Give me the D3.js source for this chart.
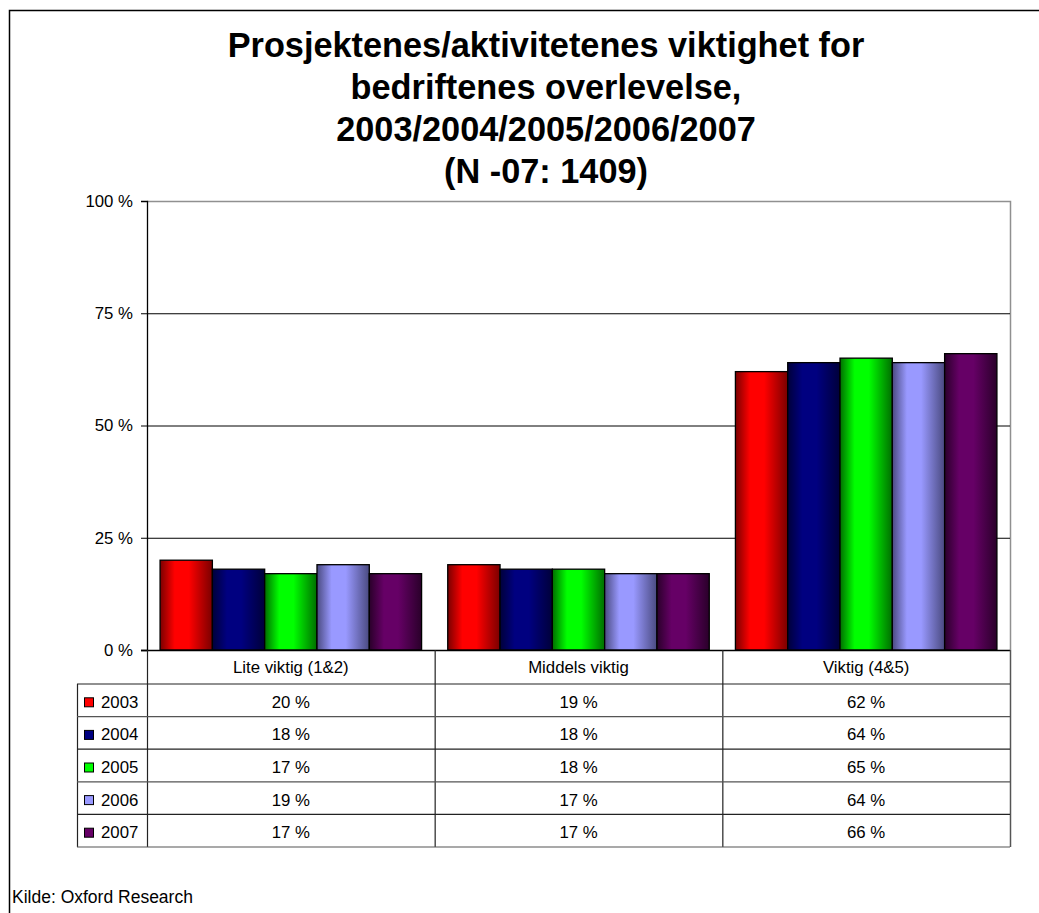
<!DOCTYPE html>
<html>
<head>
<meta charset="utf-8">
<script src="https://cdn.jsdelivr.net/npm/d3@7"></script>
<style>
  html, body { margin: 0; padding: 0; background: #fff; }
  svg { display: block; font-family: "Liberation Sans", Arial, sans-serif; }
</style>
</head>
<body>
<svg id="chart" width="1039" height="913"></svg>
<script>
// Chart data
const categories = ["Lite viktig (1&2)", "Middels viktig", "Viktig (4&5)"];
const years = ["2003", "2004", "2005", "2006", "2007"];
const values2003 = [20, 19, 62];
const values2004 = [18, 18, 64];
const values2005 = [17, 18, 65];
const values2006 = [19, 17, 64];
const values2007 = [17, 17, 66];
const seriesValues = [values2003, values2004, values2005, values2006, values2007];
const yTicks = [0, 25, 50, 75, 100];
const titleLines = [
  "Prosjektenes/aktivitetenes viktighet for",
  "bedriftenes overlevelse,",
  "2003/2004/2005/2006/2007",
  "(N -07: 1409)"
];
const sourceText = "Kilde: Oxford Research";

// Bright centre / dark edge colour for each year's bars
const seriesColors = [
  { mid: "#ff0000", edge: "#7a0000" },
  { mid: "#000080", edge: "#00003a" },
  { mid: "#00ff00", edge: "#006e00" },
  { mid: "#9999ff", edge: "#4a4a80" },
  { mid: "#660066", edge: "#2a002a" }
];

const svg = d3.select("#chart");

// Layout
const plot = { left: 147, right: 1010, top: 201, bottom: 650 };
const table = { legendLeft: 77, headerBottom: 684, rowH: 32.6 };

// Gradients for the shaded bars
const defs = svg.append("defs");
seriesColors.forEach((c, i) => {
  const g = defs.append("linearGradient")
    .attr("id", "grad" + i)
    .attr("x1", "0%").attr("x2", "100%").attr("y1", "0%").attr("y2", "0%");
  g.append("stop").attr("offset", "0%").attr("stop-color", c.edge);
  g.append("stop").attr("offset", "28%").attr("stop-color", c.mid);
  g.append("stop").attr("offset", "55%").attr("stop-color", c.mid);
  g.append("stop").attr("offset", "100%").attr("stop-color", c.edge);
});

// Outer frame
svg.append("path")
  .attr("d", "M9.5,913 L9.5,10.5 L1039,10.5")
  .attr("fill", "none").attr("stroke", "#000").attr("stroke-width", 1.5);

// Title
const title = svg.append("text")
  .attr("text-anchor", "middle")
  .attr("font-weight", "bold")
  .attr("font-size", 34.3)
  .attr("fill", "#000");
titleLines.forEach((t, i) => {
  title.append("tspan").attr("x", 546).attr("y", 57 + i * 42).text(t);
});

// Scales
const x = d3.scaleBand().domain(categories).range([plot.left, plot.right]);
const xInner = d3.scaleBand().domain(years).range([0, x.bandwidth()])
  .paddingInner(0).paddingOuter(0.25);
const y = d3.scaleLinear().domain([0, 100]).range([plot.bottom, plot.top]);

// Plot area border (grey top and right)
svg.append("path")
  .attr("d", `M${plot.left},${plot.top + 0.5} L${plot.right + 0.5},${plot.top + 0.5} L${plot.right + 0.5},${plot.bottom}`)
  .attr("fill", "none").attr("stroke", "#909090").attr("stroke-width", 1.5);

// Gridlines
svg.append("g")
  .attr("transform", `translate(${plot.left},0)`)
  .call(d3.axisLeft(y).tickValues(yTicks.filter(v => v > 0 && v < 100))
    .tickSize(-(plot.right - plot.left)).tickFormat(""))
  .call(g => g.select(".domain").remove())
  .call(g => g.selectAll(".tick line").attr("stroke", "#000").attr("stroke-width", 1));

// Bars
const groups = svg.append("g").selectAll("g")
  .data(years)
  .join("g");
groups.each(function (yr, si) {
  d3.select(this).selectAll("rect")
    .data(categories.map((c, ci) => ({ c, v: seriesValues[si][ci] })))
    .join("rect")
    .attr("x", d => x(d.c) + xInner(yr))
    .attr("width", xInner.bandwidth())
    .attr("y", d => y(d.v))
    .attr("height", d => y(0) - y(d.v))
    .attr("fill", `url(#grad${si})`)
    .attr("stroke", "#000")
    .attr("stroke-width", 1.3);
});

// Y axis
svg.append("g")
  .attr("transform", `translate(${plot.left},0)`)
  .call(d3.axisLeft(y).tickValues(yTicks).tickSize(6).tickPadding(8)
    .tickFormat(d => d + " %"))
  .call(g => g.select(".domain").attr("stroke", "#000").attr("stroke-width", 1.3))
  .call(g => g.selectAll(".tick line").attr("stroke", "#000"))
  .call(g => g.selectAll(".tick text")
    .attr("font-size", 16.8)
    .attr("font-family", "'Liberation Sans', Arial, sans-serif")
    .attr("fill", "#000"));

// Category axis line
svg.append("line")
  .attr("x1", plot.left - 6).attr("x2", plot.right)
  .attr("y1", plot.bottom + 0.5).attr("y2", plot.bottom + 0.5)
  .attr("stroke", "#000").attr("stroke-width", 1.3);

// Data table
const tbl = svg.append("g");
const rowsTop = table.headerBottom;
const rowsBottom = rowsTop + years.length * table.rowH;

// Vertical lines
x.domain().forEach(c => {
  tbl.append("line")
    .attr("x1", x(c) + 0.5).attr("x2", x(c) + 0.5)
    .attr("y1", plot.bottom).attr("y2", rowsBottom)
    .attr("stroke", "#222").attr("stroke-width", 1.2);
});
tbl.append("line")
  .attr("x1", plot.right + 0.5).attr("x2", plot.right + 0.5)
  .attr("y1", plot.bottom).attr("y2", rowsBottom)
  .attr("stroke", "#555").attr("stroke-width", 1.5);
tbl.append("line")
  .attr("x1", table.legendLeft + 0.5).attr("x2", table.legendLeft + 0.5)
  .attr("y1", rowsTop).attr("y2", rowsBottom)
  .attr("stroke", "#222").attr("stroke-width", 1.2);

// Horizontal lines
d3.range(years.length + 1).forEach(i => {
  const yy = rowsTop + i * table.rowH;
  tbl.append("line")
    .attr("x1", table.legendLeft).attr("x2", plot.right)
    .attr("y1", yy).attr("y2", yy)
    .attr("stroke", i % 2 === 0 ? "#222" : "#555").attr("stroke-width", 1.2);
});

// Category labels in header row
tbl.selectAll("text.cat")
  .data(categories)
  .join("text")
  .attr("class", "cat")
  .attr("x", d => x(d) + x.bandwidth() / 2)
  .attr("y", (plot.bottom + rowsTop) / 2 + 6)
  .attr("text-anchor", "middle")
  .attr("font-size", 16.8)
  .text(d => d);

// Legend keys and values per row
years.forEach((yr, si) => {
  const cy = rowsTop + si * table.rowH + table.rowH / 2;
  tbl.append("rect")
    .attr("x", 84.5).attr("y", cy - 2.5)
    .attr("width", 9).attr("height", 9)
    .attr("fill", seriesColors[si].mid)
    .attr("stroke", "#000").attr("stroke-width", 1);
  tbl.append("text")
    .attr("x", 101).attr("y", cy + 7.5)
    .attr("font-size", 16.8)
    .text(yr);
  categories.forEach((c, ci) => {
    tbl.append("text")
      .attr("x", x(c) + x.bandwidth() / 2)
      .attr("y", cy + 7.5)
      .attr("text-anchor", "middle")
      .attr("font-size", 16.8)
      .text(seriesValues[si][ci] + " %");
  });
});

// Source note
svg.append("text")
  .attr("x", 12).attr("y", 903)
  .attr("font-size", 17.5)
  .text(sourceText);
</script>
</body>
</html>
